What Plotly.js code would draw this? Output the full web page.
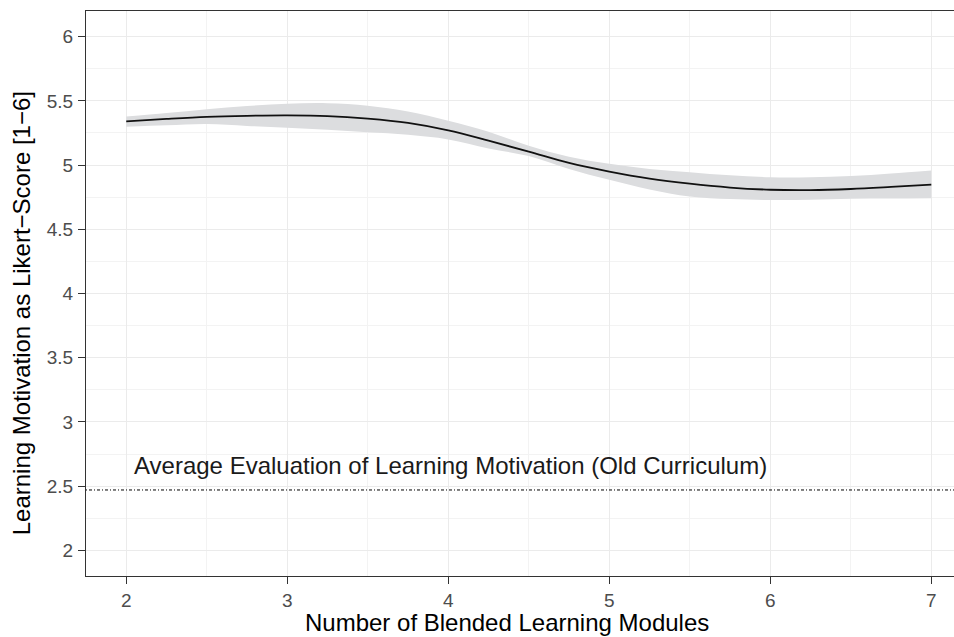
<!DOCTYPE html>
<html>
<head>
<meta charset="utf-8">
<script src="https://cdn.plot.ly/plotly-3.0.1.min.js"></script>
<style>html,body{margin:0;padding:0;background:#fff;}#chart{width:954px;height:637px;}</style>
</head>
<body>
<div id="chart"></div>
<script>
const modules = [2, 2.25, 2.5, 2.75, 3, 3.25, 3.5, 3.75, 4, 4.25, 4.5, 4.75, 5, 5.25, 5.5, 5.75, 6, 6.25, 6.5, 6.75, 7];
const fitValues = [5.341, 5.36, 5.376, 5.384, 5.387, 5.382, 5.362, 5.328, 5.27, 5.19, 5.105, 5.017, 4.95, 4.895, 4.855, 4.825, 4.808, 4.805, 4.814, 4.83, 4.848];
const upperCI = [5.378, 5.405, 5.435, 5.46, 5.478, 5.482, 5.463, 5.418, 5.345, 5.26, 5.15, 5.065, 5.01, 4.97, 4.945, 4.92, 4.905, 4.905, 4.915, 4.935, 4.958];
const lowerCI = [5.298, 5.31, 5.32, 5.305, 5.29, 5.275, 5.255, 5.236, 5.2, 5.13, 5.07, 4.97, 4.885, 4.81, 4.755, 4.735, 4.728, 4.73, 4.738, 4.74, 4.742];
const oldCurriculumMean = 2.47;
const oldCurriculumLabel = "Average Evaluation of Learning Motivation (Old Curriculum)";
const xTitle = "Number of Blended Learning Modules";
const yTitle = "Learning Motivation as Likert\u2212Score [1\u22126]";

const FONT = "'Liberation Sans', Arial, Helvetica, sans-serif";

const traces = [
  {x: modules, y: lowerCI, type: 'scatter', mode: 'lines', line: {width: 0, shape: 'spline', color: 'rgba(0,0,0,0)'}, hoverinfo: 'skip', showlegend: false},
  {x: modules, y: upperCI, type: 'scatter', mode: 'lines', fill: 'tonexty', fillcolor: '#DCDDDF', line: {width: 0, shape: 'spline', color: 'rgba(0,0,0,0)'}, hoverinfo: 'skip', showlegend: false},
  {x: modules, y: fitValues, type: 'scatter', mode: 'lines', line: {width: 1.8, shape: 'spline', color: '#111111'}, showlegend: false}
];

const layout = {
  width: 954, height: 637,
  margin: {l: 86, r: 0, t: 11, b: 61, pad: 0},
  paper_bgcolor: '#ffffff', plot_bgcolor: '#ffffff',
  font: {family: FONT, color: '#000000'},
  showlegend: false,
  xaxis: {
    range: [1.75, 7.141], dtick: 1, tick0: 0,
    showgrid: true, gridcolor: '#EBEBEB', gridwidth: 1,
    minor: {dtick: 0.5, tick0: 0, showgrid: true, gridcolor: '#F3F3F3', gridwidth: 1},
    zeroline: false,
    showline: true, mirror: true, linecolor: '#333333', linewidth: 1,
    ticks: 'outside', ticklen: 7, tickwidth: 1, tickcolor: '#333333',
    ticklabelstandoff: 0,
    tickfont: {family: FONT, size: 19, color: '#4D4D4D'}
  },
  yaxis: {
    range: [1.8, 6.2], dtick: 0.5, tick0: 0,
    showgrid: true, gridcolor: '#EBEBEB', gridwidth: 1,
    minor: {dtick: 0.25, tick0: 0, showgrid: true, gridcolor: '#F3F3F3', gridwidth: 1},
    zeroline: false,
    showline: true, mirror: false, linecolor: '#333333', linewidth: 1,
    ticks: 'outside', ticklen: 7, tickwidth: 1, tickcolor: '#333333',
    ticklabelstandoff: 1,
    tickfont: {family: FONT, size: 19, color: '#4D4D4D'}
  },
  shapes: [
    {type: 'line', xref: 'paper', x0: 0, x1: 1, yref: 'y', y0: oldCurriculumMean, y1: oldCurriculumMean,
     line: {color: '#000000', width: 1, dash: '1px,2px,3px,2px'}}
  ],
  annotations: [
    {text: oldCurriculumLabel, xref: 'x', yref: 'y', x: 2.035, y: 2.662, xanchor: 'left', yanchor: 'middle',
     showarrow: false, font: {family: FONT, size: 24, color: '#1A1A1A'}},
    {text: xTitle, xref: 'paper', yref: 'paper', x: 0.485, y: -0.083, xanchor: 'center', yanchor: 'middle',
     showarrow: false, font: {family: FONT, size: 24, color: '#000000'}},
    {text: yTitle, xref: 'paper', yref: 'paper', x: -0.0749, y: 0.465, xanchor: 'center', yanchor: 'middle',
     textangle: -90, showarrow: false, font: {family: FONT, size: 24, color: '#000000'}}
  ]
};

Plotly.newPlot('chart', traces, layout, {displayModeBar: false, staticPlot: true});
</script>
</body>
</html>
